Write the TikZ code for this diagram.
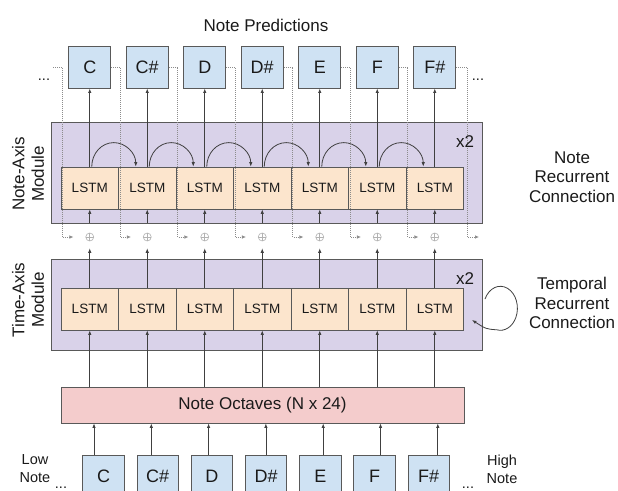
\documentclass[tikz,border=0pt]{standalone}
\usepackage{fontspec}
\setmainfont{Liberation Sans}
\usetikzlibrary{arrows.meta,calc}
\definecolor{blueF}{HTML}{CFE2F3}
\definecolor{orangeF}{HTML}{FCE5CD}
\definecolor{purpleF}{HTML}{D9D2E9}
\definecolor{pinkF}{HTML}{F4CCCC}
\definecolor{edge}{HTML}{595959}
\definecolor{txt}{HTML}{1A1A1A}
\begin{document}
\begin{tikzpicture}[x=1pt,y=-1pt,
 notebox/.style={draw=edge, fill=blueF, line width=0.9pt, minimum width=42pt, minimum height=42pt, inner sep=0pt, font=\fontsize{18}{20}\selectfont, text=txt},
 lstm/.style={draw=edge, fill=orangeF, line width=0.8pt, minimum width=57.5pt, minimum height=42pt, inner sep=0pt, font=\fontsize{13.5}{16}\selectfont, text=txt},
 module/.style={draw=edge, fill=purpleF, line width=0.9pt, inner sep=0pt, anchor=north west},
 arr/.style={-{Latex[length=4.5pt,width=3.5pt]}, draw=black!75, line width=0.8pt},
 dotline/.style={draw=black!45, line width=0.7pt, dash pattern=on 0.8pt off 1.2pt},
 dotarr/.style={dotline, -{Latex[length=4pt,width=3.5pt]}},
 plus/.style={circle, draw=black!30, line width=0.6pt, minimum size=8pt, inner sep=0pt,
   path picture={\draw[black!30,line width=0.6pt] (path picture bounding box.north) -- (path picture bounding box.south) (path picture bounding box.west) -- (path picture bounding box.east);}},
 lbl/.style={font=\fontsize{17}{19.5}\selectfont, text=txt, align=center, inner sep=0pt},
 small/.style={font=\fontsize{14.5}{18}\selectfont, text=txt, align=center, inner sep=0pt},
]
\clip (0,0) rectangle (618,490);
\fill[white] (0,0) rectangle (618,490);

% modules
\node[module, minimum width=431pt, minimum height=101pt] (nm) at (51,122) {};
\node[module, minimum width=431pt, minimum height=91pt] (tm) at (51,259) {};

% note octaves
\node[draw=edge, fill=pinkF, line width=0.8pt, minimum width=403pt, minimum height=36pt, inner sep=0pt, font=\fontsize{17}{20}\selectfont, text=txt] (oct) at (262.5,405) {Note Octaves (N x 24)};

% boxes
\foreach \i/\n in {1/C,2/C\#,3/D,4/D\#,5/E,6/F,7/F\#} {
  \node[lstm] (nl\i) at ({89.75+57.5*(\i-1)},188) {LSTM};
  \node[lstm] (tl\i) at ({89.75+57.5*(\i-1)},309) {LSTM};
  \node[notebox] (t\i) at ({89.75+57.5*(\i-1)},67) {\n};
  \node[notebox, minimum width=41.5pt] (b\i) at ({103.5+54.2*(\i-1)},476) {\n};
  \node[plus] (p\i) at ({89.75+57.5*(\i-1)},237) {};
  \coordinate (bt\i) at ({94+57.3*(\i-1)},455);
}

% vertical connectors
\foreach \i in {1,...,7} {
  \draw[arr] (nl\i.north) -- (t\i.south);
  \draw[arr, shorten <=10pt] (p\i.north) -- (nl\i.south);
  \draw[arr, shorten >=7pt] (tl\i.north) -- (p\i.south);
  \draw[arr] (tl\i.south |- oct.north) -- (tl\i.south);
  \draw[arr] (bt\i) -- (bt\i |- oct.south);
}

% note recurrent arcs
\foreach \i in {1,...,6} {
  \draw[arr] ($(nl\i.north)+(2,0)$) arc[start angle=180, end angle=360, x radius=22, y radius=24];
}

% dotted skip connections
\coordinate (ls) at (53,67);
\draw[dotarr, shorten >=12pt] (ls) -- ++(9.25,0) |- (p1.west);
\foreach \i [evaluate=\i as \j using int(\i+1)] in {1,...,6} {
  \draw[dotarr, shorten >=12pt] (t\i.east) -- ++(9,0) |- (p\j.west);
}
\coordinate (re) at (479,237);
\draw[dotarr] (t7.east) -- ++(11,0) |- (re);

% ellipses
\node[small, anchor=base] (d1) at (44,80) {...};
\node[small, anchor=base] (d2) at (478,80) {...};
\node[small, anchor=base] (d3) at (61,488) {...};
\node[small, anchor=base] (d4) at (468,488) {...};

% temporal loop
\draw[arr] (485,299) arc[start angle=205, end angle=462, x radius=17, y radius=22] .. controls (486,329) .. (472,320);

% labels
\node[lbl] (np) at (266,25) {Note Predictions};
\node[lbl, rotate=90] (nam) at (28,174) {Note-Axis\\Module};
\node[lbl, rotate=90] (tam) at (28,300) {Time-Axis\\Module};
\node[lbl] (x2a) at (465,142) {x2};
\node[lbl] (x2b) at (465,279) {x2};
\node[lbl] (nrc) at (572,177) {Note\\Recurrent\\Connection};
\node[lbl] (trc) at (572,303) {Temporal\\Recurrent\\Connection};
\node[small] (low) at (35,469) {Low\\Note};
\node[small] (high) at (502,469) {High\\Note};
\end{tikzpicture}
\end{document}
